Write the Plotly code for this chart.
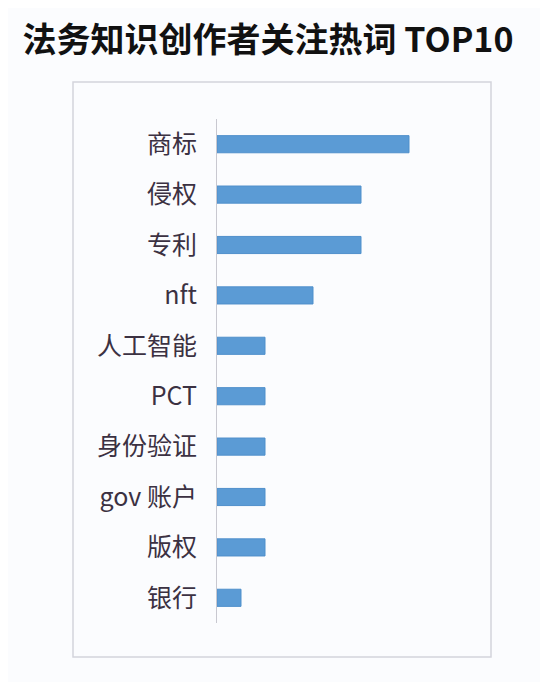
import plotly.graph_objects as go

categories = ["商标", "侵权", "专利", "nft", "人工智能", "PCT", "身份验证", "gov 账户", "版权", "银行"]
values = [8, 6, 6, 4, 2, 2, 2, 2, 2, 1]
title_text = "法务知识创作者关注热词 TOP10"

OFF = 8  # default page body margin
W, H = 548 - OFF, 682 - OFF
L, T = 217 - OFF, 119 - OFF
R = W - (457 - OFF)
B = H - (623 - OFF)
pw = W - L - R
ph = H - T - B

def px_x(x):
    return (x - OFF - L) / pw

def px_y(y):
    return (H - B - (y - OFF)) / ph

fig = go.Figure()
fig.add_trace(go.Bar(
    y=categories,
    x=values,
    orientation="h",
    marker=dict(color="#5b9bd5", line=dict(color="#4f8fcb", width=1)),
    hoverinfo="x+y",
))

fig.update_layout(
    width=W, height=H,
    margin=dict(l=L, r=R, t=T, b=B, pad=0),
    paper_bgcolor="#fbfcfe",
    plot_bgcolor="#fbfcfe",
    bargap=0.66,
    showlegend=False,
    title=dict(
        text="<b>" + title_text + "</b>",
        x=(268 - OFF) / W, xref="container", xanchor="center",
        y=1 - (40 - OFF) / H, yref="container", yanchor="middle",
        font=dict(family="Noto Sans CJK SC", size=34, color="#111111"),
    ),
    xaxis=dict(
        range=[0, 10], visible=False, fixedrange=True,
    ),
    yaxis=dict(
        autorange="reversed",
        showline=True, linecolor="#c8c8d0", linewidth=1,
        ticks="", showgrid=False, zeroline=False,
        ticklabelstandoff=14,
        tickfont=dict(family="Noto Sans CJK SC", size=25, color="#3b3142"),
    ),
    shapes=[dict(
        type="rect", xref="paper", yref="paper",
        x0=px_x(73), x1=px_x(491), y0=px_y(657), y1=px_y(82),
        line=dict(color="#d4d4dc", width=1.5), fillcolor="rgba(0,0,0,0)",
        layer="below",
    )],
)

fig.write_html("out.html")
